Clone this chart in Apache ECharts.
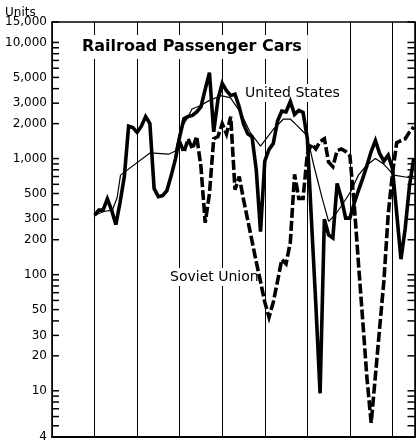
<!DOCTYPE html>
<html>
<head>
<meta charset="utf-8">
<script src="https://cdn.jsdelivr.net/npm/echarts@6/dist/echarts.min.js"></script>
<style>
  html, body { margin: 0; padding: 0; background: #fff; }
  #chart { width: 416px; height: 443px; }
</style>
</head>
<body>
<div id="chart"></div>
<script>
// Annual output of railroad passenger cars (units), log scale.
const firstUsYear = 1880;
const usUnits = [
  325, 360, 360, 450, 360, 270, 420, 700, 1900, 1850,   // 1880-1889
  1680, 1900, 2300, 2000, 550, 470, 480, 530, 710, 990,  // 1890-1899
  1540, 2200, 2300, 2350, 2520, 2780, 3950, 5500, 1700, 3240, // 1900-1909
  4450, 3850, 3500, 3580, 2780, 1990, 1630, 1540, 800, 235,   // 1910-1919
  950, 1200, 1350, 2100, 2560, 2520, 3100, 2400, 2600, 2500,  // 1920-1929
  1480, 280, 55, 9.5, 300, 220, 207, 610, 454, 307,           // 1930-1939
  307, 410, 530, 673, 870, 1150, 1430, 1100, 950, 1070,       // 1940-1949
  820, 338, 136, 250, 580, 1000                               // 1950-1955
];

const firstSovietYear = 1900;
const sovietUnits = [
  1400, 1130, 1480, 1210, 1550, 850, 280, 500, 1480, 1550,    // 1900-1909
  2000, 1630, 2300, 540, 700, 445, 295, 195, 129, 87,         // 1910-1919
  58, 43, 58, 88, 135, 124, 190, 730, 454, 454,               // 1920-1929
  1100, 1330, 1210, 1400, 1480, 930, 850, 1170, 1210, 1150,   // 1930-1939
  1060, 410, 127, 41, 13, 5.3, 13.5, 35, 89, 330,             // 1940-1949
  743, 1370, 1430, 1480, 1690, 1870                           // 1950-1955
];

// Smoothed trend of United States output
const trendYears = [1880, 1882.2, 1884.2, 1885.3, 1886.1, 1893.1, 1897.4, 1899, 1900.2, 1901.7,
  1902.9, 1904.8, 1906.8, 1909.6, 1911.9, 1914.3, 1916.6, 1919, 1922.1, 1924.4,
  1926, 1927.6, 1929.9, 1931.5, 1933.5, 1935, 1936.6, 1938.2, 1940.2, 1942,
  1944, 1946, 1947.9, 1950.3, 1953.4, 1955.3];
const trendUnits = [325, 350, 360, 460, 720, 1120, 1090, 1160, 1800, 2190,
  2670, 2850, 3140, 3480, 3350, 2500, 1670, 1280, 1800, 2190,
  2190, 1920, 1580, 880, 454, 288, 330, 400, 520, 720,
  880, 1000, 900, 720, 690, 670];

const yLabelValues = [4, 10, 20, 30, 50, 100, 200, 300, 500, 1000, 2000, 3000, 5000, 10000, 15000];
const yTickValues = [4, 5, 6, 7, 8, 9, 10, 20, 30, 40, 50, 60, 70, 80, 90, 100, 200, 300, 400, 500,
  600, 700, 800, 900, 1000, 2000, 3000, 4000, 5000, 6000, 7000, 8000, 9000, 10000, 15000];

const xStart = 1870, xEnd = 1955.3, xStep = 10;
const yMin = 4, yMax = 15000;

const FONT = '"DejaVu Sans", sans-serif';

const usData = usUnits.map((v, i) => [firstUsYear + i, v]);
const sovietData = sovietUnits.map((v, i) => [firstSovietYear + i, v]);
const trendData = trendYears.map((y, i) => [y, trendUnits[i]]);

// Tick marks: a scatter of short horizontal bars pinned to each frame side
const leftTicks = yTickValues.map(v => [xStart, v]);
const rightTicks = yTickValues.map(v => [xEnd, v]);

const chart = echarts.init(document.getElementById('chart'), null, { renderer: 'canvas' });

function logAxis(pos) {
  return {
    type: 'log',
    logBase: 10,
    min: yMin,
    max: yMax,
    position: pos,
    axisLine: { show: true, onZero: false, lineStyle: { color: '#000', width: 1.6 } },
    axisTick: { show: false },
    splitLine: { show: false },
    minorTick: { show: false },
    axisLabel: {
      show: pos === 'left',
      customValues: yLabelValues,
      margin: 5,
      color: '#000',
      fontFamily: FONT,
      fontSize: 12,
      formatter: v => Number(v).toLocaleString('en-US')
    }
  };
}

function tickSeries(name, data, offsetX) {
  return {
    name: name, type: 'scatter', data: data,
    xAxisIndex: 0, yAxisIndex: 0, silent: true, clip: false, z: 6,
    symbol: 'rect',
    symbolSize: [7, 1.5],
    symbolOffset: [offsetX, 0],
    itemStyle: { color: '#000', opacity: 1 },
    emphasis: { disabled: true }
  };
}

chart.setOption({
  animation: false,
  backgroundColor: '#fff',
  title: {
    text: 'Railroad Passenger Cars',
    left: 76,
    top: 35,
    padding: [4, 6, 4, 6],
    backgroundColor: '#fff',
    textStyle: { fontFamily: FONT, fontSize: 16, fontWeight: 'bold', color: '#000' }
  },
  grid: { left: 52, right: 1, top: 22, bottom: 3, containLabel: false },
  xAxis: [
    {
      type: 'value', min: xStart, max: xEnd, interval: xStep, position: 'bottom',
      axisLine: { show: true, onZero: false, lineStyle: { color: '#000', width: 1.8 } },
      axisTick: { show: false },
      axisLabel: { show: false },
      splitLine: { show: true, lineStyle: { color: '#000', width: 1 } }
    },
    {
      type: 'value', min: xStart, max: xEnd, interval: xStep, position: 'top',
      axisLine: { show: true, onZero: false, lineStyle: { color: '#000', width: 1.6 } },
      axisTick: { show: false },
      axisLabel: { show: false },
      splitLine: { show: false }
    }
  ],
  yAxis: [logAxis('left'), logAxis('right')],
  graphic: [
    {
      type: 'text', left: 5, top: 7, z: 10,
      style: { text: 'Units', font: '12px ' + FONT, fill: '#000' }
    },
    {
      type: 'text', left: 243, top: 84, z: 1,
      style: {
        text: 'United States', font: '14px ' + FONT, fill: '#000',
        backgroundColor: '#fff', padding: [2, 2, 2, 2]
      }
    },
    {
      type: 'text', left: 168, top: 268, z: 1,
      style: {
        text: 'Soviet Union', font: '14px ' + FONT, fill: '#000',
        backgroundColor: '#fff', padding: [2, 2, 2, 2]
      }
    }
  ],
  series: [
    tickSeries('left ticks', leftTicks, 3.5),
    tickSeries('right ticks', rightTicks, -4),
    {
      name: 'United States trend', type: 'line', data: trendData,
      xAxisIndex: 0, yAxisIndex: 0, showSymbol: false, silent: true, z: 3,
      lineStyle: { color: '#000', width: 1.2 }
    },
    {
      name: 'United States', type: 'line', data: usData,
      xAxisIndex: 0, yAxisIndex: 0, showSymbol: false, silent: true, z: 4,
      lineStyle: { color: '#000', width: 3.6, join: 'miter', miterLimit: 4 }
    },
    {
      name: 'Soviet Union', type: 'line', data: sovietData,
      xAxisIndex: 0, yAxisIndex: 0, showSymbol: false, silent: true, z: 5,
      lineStyle: { color: '#000', width: 3.6, type: [10, 3], join: 'miter', miterLimit: 4 }
    }
  ]
});
</script>
</body>
</html>
